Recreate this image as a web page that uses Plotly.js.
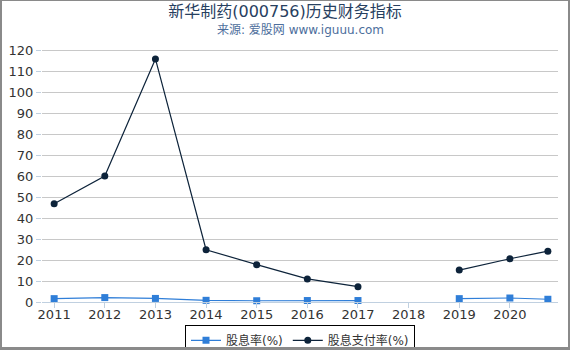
<!DOCTYPE html>
<html><head><meta charset="utf-8">
<script src="https://cdn.plot.ly/plotly-3.0.1.min.js"></script>
<style>html,body{margin:0;padding:0;background:#fff}#c{width:566px;height:346px;border:2px solid #8a8a8a;border-top-width:1px;border-bottom-width:3px}</style>
</head><body><div id="c"></div>
<script>
const periods = [2011, 2012, 2013, 2014, 2015, 2016, 2017, 2018, 2019, 2020, 2020.75];
const yieldPct = [1.6, 2.1, 1.7, 0.8, 0.6, 0.7, 0.7, null, 1.6, 1.9, 1.3];
const payoutPct = [46.8, 60.0, 115.8, 24.9, 17.8, 11.0, 7.3, null, 15.2, 20.6, 24.2];
const tickYears = [2011, 2012, 2013, 2014, 2015, 2016, 2017, 2018, 2019, 2020];
const tickText = tickYears.map(String);

const traces = [
  {x: periods, y: yieldPct, name: '股息率(%)', type: 'scatter', mode: 'lines+markers',
   line: {color: '#2f7ed8', width: 1.2}, marker: {symbol: 'square', size: 7, color: '#2f7ed8'},
   connectgaps: false, cliponaxis: false},
  {x: periods, y: payoutPct, name: '股息支付率(%)', type: 'scatter', mode: 'lines+markers',
   line: {color: '#0d233a', width: 1.2}, marker: {symbol: 'circle', size: 7, color: '#0d233a'},
   connectgaps: false, cliponaxis: false}
];
const layout = {
  width: 566, height: 346,
  margin: {l: 40, r: 10, t: 47, b: 45, autoexpand: false},
  paper_bgcolor: '#fff', plot_bgcolor: '#fff',
  font: {family: 'DejaVu Sans, Noto Sans CJK SC', size: 13, color: '#333'},
  title: {text: '新华制药(000756)历史财务指标', x: 0.5, xanchor: 'center', y: 0.985, yanchor: 'top',
          font: {size: 16, color: '#274060', family: 'DejaVu Sans, Noto Sans CJK SC'}},
  annotations: [{text: '来源: 爱股网 www.iguuu.com', xref: 'paper', yref: 'paper', x: 0.5, y: 1.07,
    xanchor: 'center', yanchor: 'middle', showarrow: false, font: {size: 12, color: '#4d6e9c'}}],
  xaxis: {range: [2010.76, 2020.95], tickvals: tickYears, ticktext: tickText, showgrid: false,
    zeroline: false, showline: true, linecolor: '#c0d0e0', linewidth: 1, ticks: 'outside',
    ticklen: 5, tickcolor: '#c0d0e0', tickfont: {size: 13, color: '#333'}, automargin: false,
    ticklabelstandoff: -5},
  yaxis: {range: [0, 121], tickvals: [0,10,20,30,40,50,60,70,80,90,100,110,120], showgrid: true,
    gridcolor: '#c8c8c8', zeroline: false, showline: false, ticks: 'outside', ticklen: 5,
    tickcolor: '#c0d0e0', tickfont: {size: 13, color: '#333'}, automargin: false},
  showlegend: true,
  legend: {orientation: 'h', x: 0.5, xanchor: 'center', yref: 'container', y: 0.064, yanchor: 'top',
    bordercolor: '#000', borderwidth: 1, font: {size: 12, color: '#333'}, itemwidth: 30,
    tracegroupgap: 0}
};
Plotly.newPlot('c', traces, layout, {staticPlot: true});
</script></body></html>
